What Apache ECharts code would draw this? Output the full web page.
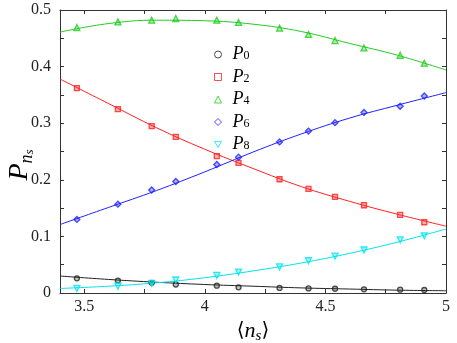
<!DOCTYPE html>
<html><head><meta charset="utf-8">
<script src="https://cdn.jsdelivr.net/npm/echarts@6/dist/echarts.min.js"></script>
<style>html,body{margin:0;padding:0;background:#fff}#c{width:457px;height:343px}</style>
</head><body><div id="c"></div>
<script>
// measured points
const xPts = [3.47, 3.64, 3.78, 3.88, 4.05, 4.14, 4.31, 4.43, 4.54, 4.66, 4.81, 4.91];
const P0 = [0.026, 0.022, 0.018, 0.015, 0.013, 0.010, 0.009, 0.008, 0.0075, 0.0065, 0.0058, 0.0053];
const P2 = [0.362, 0.325, 0.295, 0.276, 0.242, 0.230, 0.201, 0.184, 0.170, 0.155, 0.138, 0.125];
const P4 = [0.469, 0.479, 0.482, 0.485, 0.482, 0.478, 0.468, 0.457, 0.446, 0.433, 0.420, 0.406];
const P6 = [0.130, 0.157, 0.182, 0.197, 0.227, 0.240, 0.267, 0.286, 0.301, 0.319, 0.330, 0.348];
const P8 = [0.008, 0.012, 0.017, 0.023, 0.031, 0.037, 0.046, 0.057, 0.065, 0.076, 0.094, 0.101];
// fit curves
const fitX = [3.4, 3.6, 3.8, 4.0, 4.2, 4.4, 4.6, 4.8, 5.0];
const fitP0 = [0.030, 0.024, 0.019, 0.015, 0.012, 0.009, 0.007, 0.005, 0.004];
const fitP2 = [0.378, 0.335, 0.292, 0.254, 0.220, 0.188, 0.162, 0.139, 0.118];
const fitP4 = [0.461, 0.476, 0.482, 0.481, 0.475, 0.462, 0.441, 0.420, 0.394];
const fitP6 = [0.121, 0.151, 0.181, 0.214, 0.249, 0.281, 0.309, 0.332, 0.354];
const fitP8 = [0.008, 0.012, 0.018, 0.027, 0.039, 0.053, 0.070, 0.090, 0.113];
const xTicks = [3.5, 3.75, 4, 4.25, 4.5, 4.75, 5];
const xLabels = [3.5, 4, 4.5, 5];
const yTicks = [0, 0.05, 0.1, 0.15, 0.2, 0.25, 0.3, 0.35, 0.4, 0.45, 0.5];
const yLabels = [0, 0.1, 0.2, 0.3, 0.4, 0.5];

const names = ['P0', 'P2', 'P4', 'P6', 'P8'];
const subs = ['0', '2', '4', '6', '8'];
const colors = ['#222222', '#ff2020', '#22cc22', '#2020ff', '#00e5ee'];
const fills = ['rgba(34,34,34,0.35)', 'rgba(255,32,32,0.45)', 'rgba(34,204,34,0.45)', 'rgba(32,32,255,0.45)', 'rgba(0,229,238,0.45)'];
const symbols = ['circle', 'rect', 'triangle', 'diamond', 'triangle'];
const legendIcons = ['circle', 'rect', 'triangle', 'diamond', 'path://M0,0L10,0L5,9Z'];
const sizes = [5, 5, 6, 6, 6];
const rots = [0, 0, 0, 0, 180];
const pts = [P0, P2, P4, P6, P8];
const fits = [fitP0, fitP2, fitP4, fitP6, fitP8];

const serif = 'Liberation Serif';
const axisCol = '#333';
const zip = (xs, ys) => xs.map((x, i) => [x, ys[i]]);
const tickRich = {t: {fontFamily: serif, fontSize: 16, color: '#222'}};

const series = [];
names.forEach((n, i) => {
  series.push({
    type: 'line', name: n + 'fit', data: zip(fitX, fits[i]), smooth: 0.4,
    showSymbol: false, lineStyle: {color: colors[i], width: 1}, silent: true, z: 2
  });
});
names.forEach((n, i) => {
  series.push({
    type: 'scatter', name: n, data: zip(xPts, pts[i]), symbol: symbols[i],
    symbolRotate: rots[i], symbolSize: sizes[i],
    itemStyle: {color: fills[i], borderColor: colors[i], borderWidth: 1.3}, z: 3
  });
});

const chart = echarts.init(document.getElementById('c'));
chart.setOption({
  animation: false,
  backgroundColor: '#fff',
  textStyle: {fontFamily: serif},
  grid: {left: 60, right: 11, top: 10, bottom: 50, outerBoundsMode: 'none', containLabel: false},
  legend: {
    orient: 'vertical', left: 214, top: 43, itemGap: 2, padding: 0,
    itemWidth: 7, itemHeight: 7,
    data: names.map((n, i) => ({name: n, icon: legendIcons[i], itemStyle: {color: '#fff', borderColor: colors[i], borderWidth: 1}})),
    formatter: (name) => '{p|P}{s|' + subs[names.indexOf(name)] + '}',
    textStyle: {
      fontFamily: serif, color: '#000',
      rich: {
        p: {fontFamily: serif, fontStyle: 'italic', fontSize: 18, color: '#000', padding: [0, 0, 0, 6], lineHeight: 15},
        s: {fontFamily: serif, fontSize: 12, color: '#000', verticalAlign: 'bottom', padding: [7, 0, 0, 0], lineHeight: 15}
      }
    }
  },
  graphic: [{
    type: 'text', x: 20, y: 165, rotation: Math.PI / 2,
    style: {
      text: '{p|P}{n|n}{s|s}', align: 'center', verticalAlign: 'middle',
      rich: {
        p: {fontFamily: serif, fontStyle: 'italic', fontSize: 28, fill: '#000'},
        n: {fontFamily: serif, fontStyle: 'italic', fontSize: 18, fill: '#000', verticalAlign: 'bottom', padding: [14, 0, 0, 0]},
        s: {fontFamily: serif, fontStyle: 'italic', fontSize: 13, fill: '#000', verticalAlign: 'bottom', padding: [20, 0, 0, 0]}
      }
    }
  }],
  xAxis: [{
    type: 'value', min: 3.4, max: 5,
    axisLine: {show: true, onZero: false, lineStyle: {color: axisCol, width: 1}},
    splitLine: {show: false},
    axisTick: {show: true, inside: true, length: 4, customValues: xTicks, lineStyle: {color: axisCol}},
    axisLabel: {customValues: xLabels, fontFamily: serif, fontSize: 16, color: '#222', margin: 6,
      formatter: v => '{t|' + v + '}', rich: tickRich},
    name: '{a|⟨}{n|n}{s|s}{a|⟩}', nameLocation: 'middle', nameGap: 22,
    nameTextStyle: {
      rich: {
        a: {fontFamily: 'DejaVu Serif', fontSize: 20, color: '#000'},
        n: {fontFamily: serif, fontStyle: 'italic', fontSize: 22, color: '#000'},
        s: {fontFamily: serif, fontStyle: 'italic', fontSize: 15, color: '#000', verticalAlign: 'bottom', padding: [10, 0, 0, 0]}
      }
    }
  }, {
    type: 'value', min: 3.4, max: 5, position: 'top',
    axisLine: {show: true, onZero: false, lineStyle: {color: axisCol, width: 1}},
    splitLine: {show: false},
    axisTick: {show: true, inside: true, length: 4, customValues: xTicks, lineStyle: {color: axisCol}},
    axisLabel: {show: false}
  }],
  yAxis: [{
    type: 'value', min: 0, max: 0.5,
    axisLine: {show: true, onZero: false, lineStyle: {color: axisCol, width: 1}},
    splitLine: {show: false},
    axisTick: {show: true, inside: true, length: 4, customValues: yTicks, lineStyle: {color: axisCol}},
    axisLabel: {customValues: yLabels, fontFamily: serif, fontSize: 16, color: '#222', margin: 9,
      formatter: v => '{t|' + v + '}', rich: tickRich}
  }, {
    type: 'value', min: 0, max: 0.5, position: 'right',
    axisLine: {show: true, onZero: false, lineStyle: {color: axisCol, width: 1}},
    splitLine: {show: false},
    axisTick: {show: true, inside: true, length: 4, customValues: yTicks, lineStyle: {color: axisCol}},
    axisLabel: {show: false}
  }],
  series: series
});
</script></body></html>
